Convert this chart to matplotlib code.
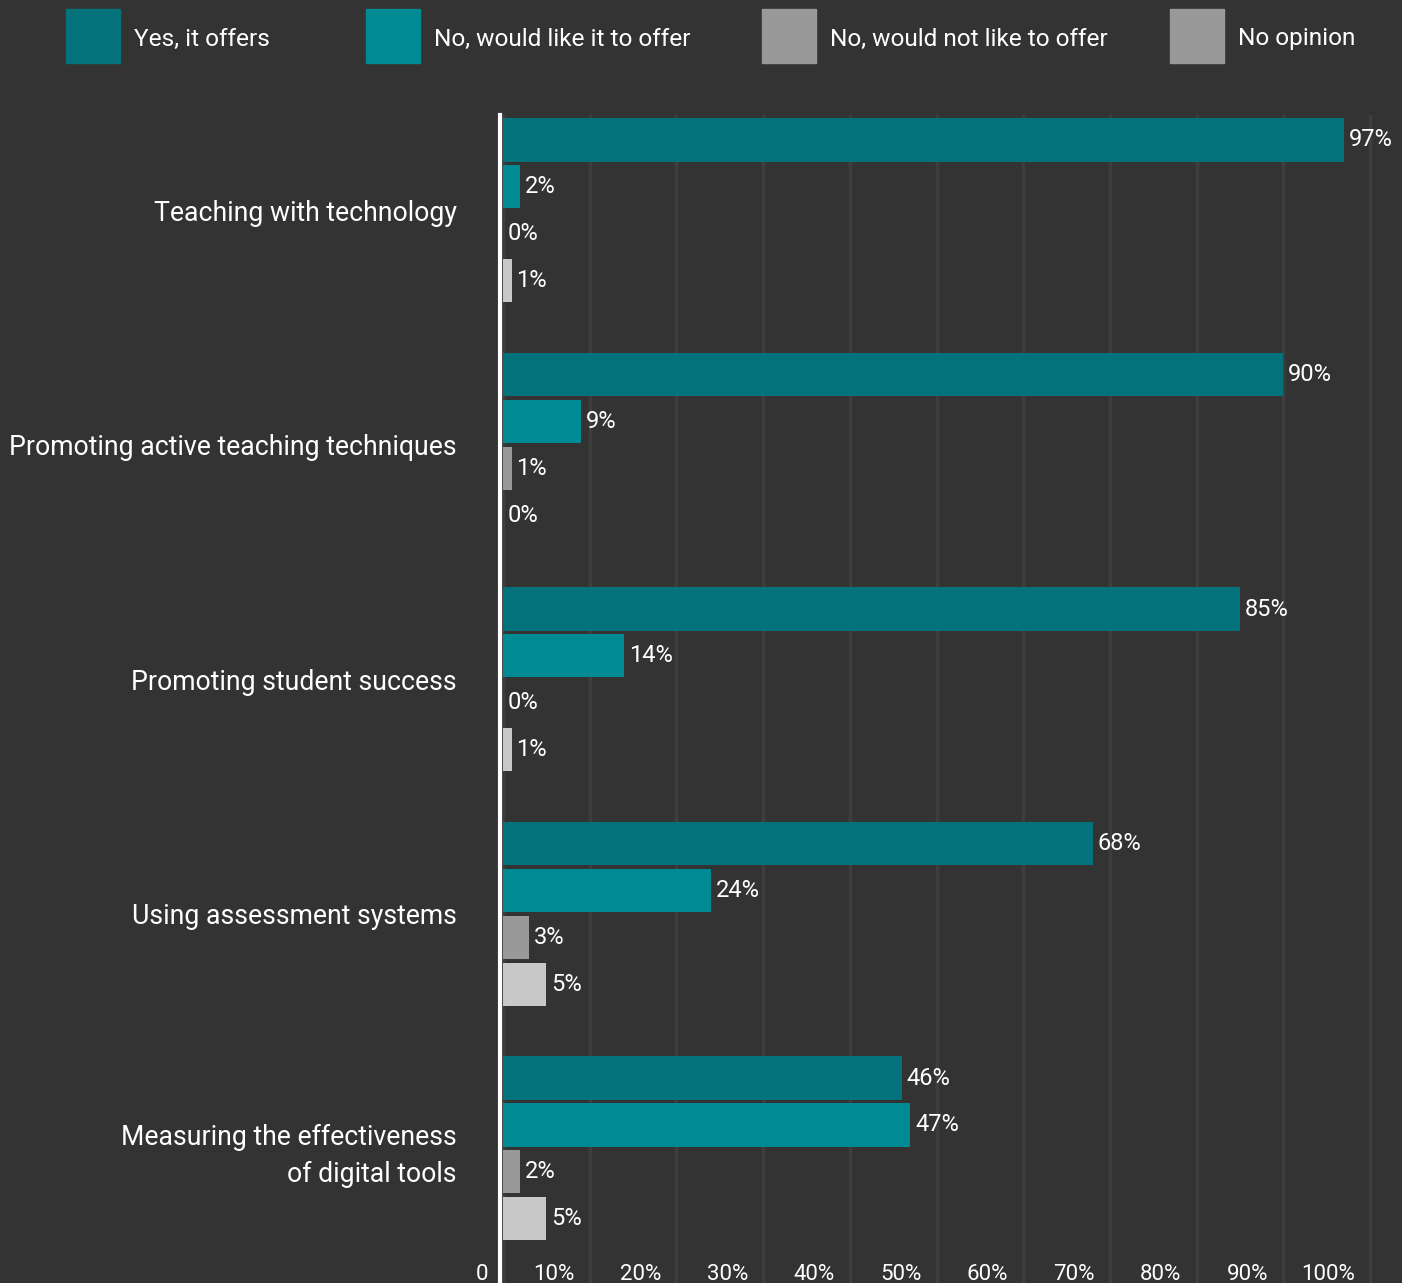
import matplotlib
matplotlib.use("Agg")
import matplotlib.pyplot as plt
import matplotlib.transforms as mtransforms
from matplotlib.patches import Rectangle

plt.rcParams['font.family'] = ['Roboto', 'DejaVu Sans']

# data
categories = ["Teaching with technology",
              "Promoting active teaching techniques",
              "Promoting student success",
              "Using assessment systems",
              "Measuring the effectiveness\nof digital tools"]
series = ["Yes, it offers", "No, would like it to offer",
          "No, would not like to offer", "No opinion"]
yes_offers = [97, 90, 85, 68, 46]
would_like = [2, 9, 14, 24, 47]
would_not = [0, 1, 0, 3, 2]
no_opinion = [1, 0, 1, 5, 5]
tick_vals = [0, 10, 20, 30, 40, 50, 60, 70, 80, 90, 100]
tick_labels = ["0", "10%", "20%", "30%", "40%", "50%", "60%", "70%", "80%", "90%", "100%"]

bar_colors = ["#03727b", "#008a93", "#999999", "#c8c8c8"]
legend_colors = ["#03727b", "#008a93", "#999999", "#999999"]
bg = "#333333"

W, H = 1402, 1283
fig = plt.figure(figsize=(W / 100, H / 100), dpi=100, facecolor=bg)
ax = fig.add_axes([500 / W, 0, (W - 500) / W, (H - 115) / H], facecolor=bg)

ax.set_ylim(24.37, -0.533)
px_per = 8.67
ax.set_xlim(-3 / px_per, (W - 500 - 3) / px_per)

# vertical grid lines every 10%
for g in range(0, 11):
    ax.axvline(g * 10, color="#3e3e3e", lw=2.5, zorder=0)

all_series = [yes_offers, would_like, would_not, no_opinion]
for j, vals in enumerate(all_series):
    ys = [i * 5 + j for i in range(len(categories))]
    ax.barh(ys, vals, height=0.92, color=bar_colors[j], zorder=2)
    for y, v in zip(ys, vals):
        ax.annotate(f"{v}%", (v, y), xytext=(3.5, 0), textcoords="offset points",
                    va="center", ha="left", color="white", fontsize=17)

ax.set_yticks([i * 5 + 1.5 for i in range(len(categories))])
ax.set_yticklabels(categories, color="white", fontsize=19.2, linespacing=1.45)
ax.tick_params(axis="y", length=0, pad=31)
ax.set_xticks([])

for s in ["top", "right", "bottom"]:
    ax.spines[s].set_visible(False)
ax.spines["left"].set_color("white")
ax.spines["left"].set_linewidth(3)

# tick labels sit just left of their grid line, inside the plot
offset = mtransforms.ScaledTranslation(-15 / 100, 0, fig.dpi_scale_trans)
trans = ax.get_xaxis_transform() + offset
for v, lab in zip(tick_vals, tick_labels):
    ax.text(v, -0.002, lab, transform=trans, ha="right", va="bottom",
            color="white", fontsize=16)

# legend
leg_x = [66, 366, 762, 1170]
for x, name, c in zip(leg_x, series, legend_colors):
    fig.patches.append(Rectangle((x / W, 1 - 63 / H), 54 / W, 54 / H,
                                 transform=fig.transFigure, color=c))
    fig.text((x + 68) / W, 1 - 39 / H, name, color="white", fontsize=17.6,
             va="center", ha="left")

fig.savefig("out.png", dpi=100, facecolor=bg)
